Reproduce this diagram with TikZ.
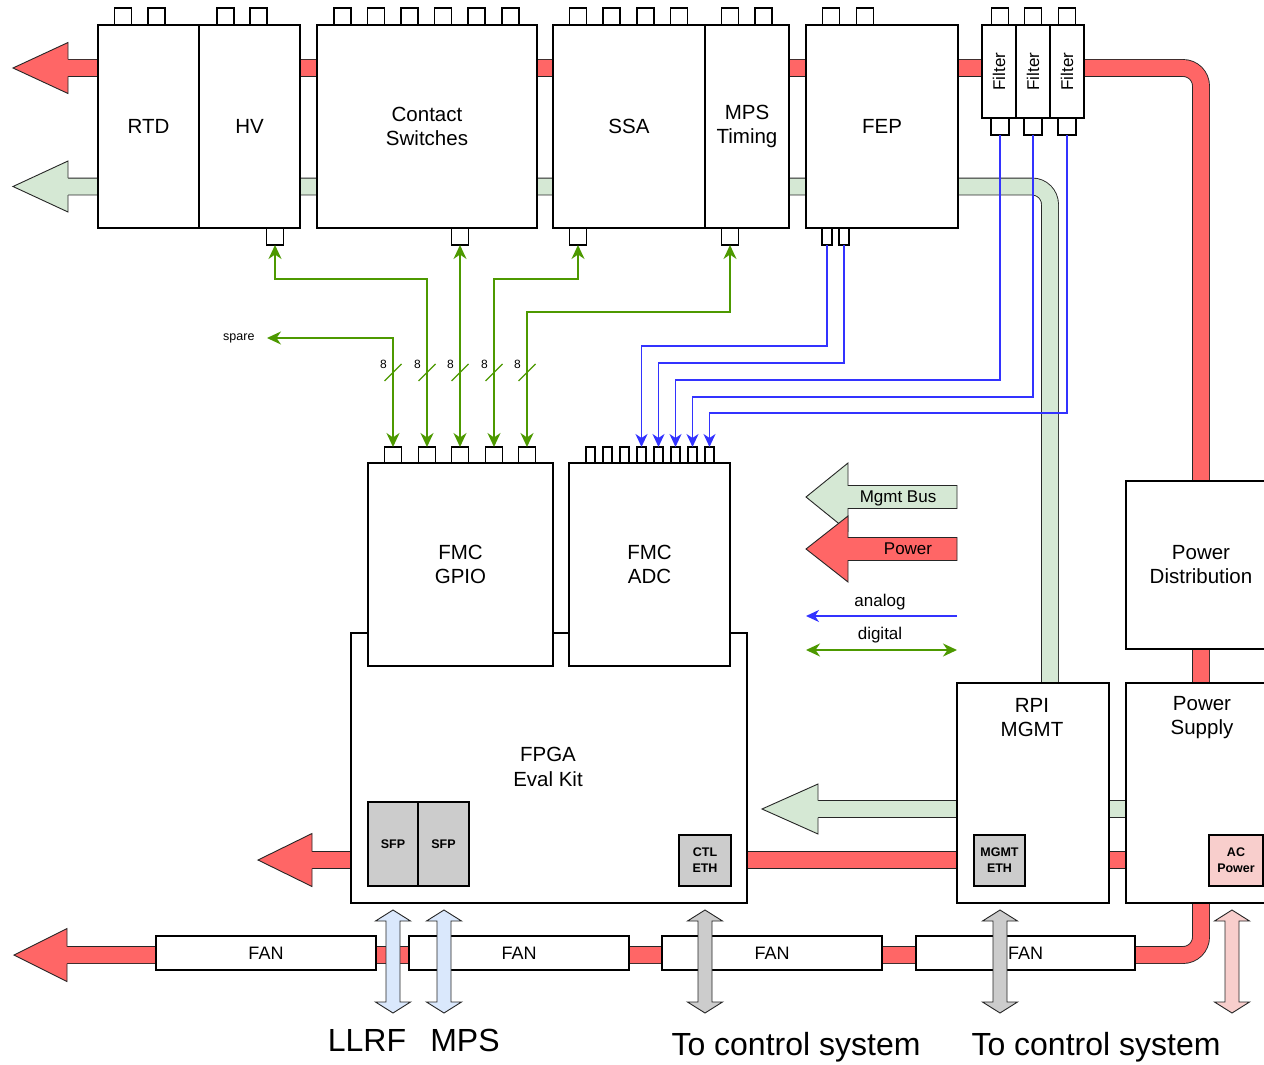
\documentclass[tikz,border=0pt]{standalone}
\usepackage{fontspec}
\setmainfont{Liberation Sans}
\usetikzlibrary{arrows.meta,calc}
\definecolor{redc}{HTML}{FF6666}
\definecolor{grnc}{HTML}{D5E8D4}
\definecolor{blc}{HTML}{3333FF}
\definecolor{dgc}{HTML}{4D9900}
\definecolor{lbc}{HTML}{DAE8FC}
\definecolor{gryc}{HTML}{CCCCCC}
\definecolor{pkc}{HTML}{F8CECC}
\tikzset{
 blk/.style={draw=black, fill=white, line width=1.3pt, inner sep=0pt, outer sep=0pt, align=center, anchor=north west, font=\fontsize{20.5}{24}\selectfont},
 ttab/.style={draw=black, fill=white, line width=1.2pt, minimum width=17pt, minimum height=17pt, inner sep=0pt, outer sep=0pt, anchor=south},
 btab/.style={ttab, anchor=north},
 ntab/.style={btab, minimum width=10pt},
 ctab/.style={ttab, minimum height=16pt},
 actab/.style={ttab, minimum height=16pt, minimum width=9pt},
 port/.style={draw=black, fill=gryc, line width=1.3pt, inner sep=0pt, outer sep=0pt, align=center, anchor=north west, font=\bfseries\fontsize{12.5}{16}\selectfont},
 fanbox/.style={blk, minimum width=220pt, minimum height=34pt, font=\fontsize{18}{20}\selectfont},
 railedge/.style={draw=black!85, line width=0.9pt, line join=miter},
 railR/.style={draw=black!85, line width=0.9pt, double=redc, double distance=16pt, rounded corners=18pt},
 railG/.style={draw=black!85, line width=0.9pt, double=grnc, double distance=16pt, rounded corners=18pt},
 dig/.style={draw=dgc, line width=2pt, arrows={Stealth[length=14pt,width=13pt,inset=4.5pt]-Stealth[length=14pt,width=13pt,inset=4.5pt]}},
 ana/.style={draw=blc, line width=1.5pt, arrows={-Stealth[length=13pt,width=12pt,inset=4pt]}},
 lgd/.style={font=\fontsize{17}{20}\selectfont},
 big/.style={font=\fontsize{32}{36}\selectfont},
}
\newcommand\railhead[6]{%
 \fill[#1] (#2,#3) -- (#4,#3-#5) -- (#4,#3+#5) -- cycle;
 \draw[railedge] (#4,#3-#6) -- (#4,#3-#5) -- (#2,#3) -- (#4,#3+#5) -- (#4,#3+#6);}
\newcommand\dblarrow[2]{%
 \filldraw[fill=#2, railedge] (#1,910) -- (#1+17.5,921) -- (#1+7,921) -- (#1+7,1002) -- (#1+17.5,1002) -- (#1,1013) -- (#1-17.5,1002) -- (#1-7,1002) -- (#1-7,921) -- (#1-17.5,921) -- cycle;}
\begin{document}
\begin{tikzpicture}[x=1pt,y=-1pt]
\useasboundingbox (0,0) rectangle (1264,1065);
\fill[white] (0,0) rectangle (1264,1065);

% ---------- rails (behind everything)
\coordinate (pwrA) at (66,68);
\coordinate (pwrB) at (1201,68);
\coordinate (pwrC) at (1201,955);
\coordinate (pwrD) at (65,955);
\draw[railR] (pwrA) -- (pwrB) -- (pwrC) -- (pwrD);
\coordinate (mgA) at (66,186.5);
\coordinate (mgB) at (1050,186.5);
\coordinate (mgC) at (1050,690);
\draw[railG] (mgA) -- (mgB) -- (mgC);
\coordinate (mg2A) at (1130,809);
\coordinate (mg2B) at (816,809);
\draw[railG] (mg2A) -- (mg2B);
\coordinate (pw2A) at (1130,860);
\coordinate (pw2B) at (310,860);
\draw[railR] (pw2A) -- (pw2B);
\railhead{redc}{13}{68}{68}{25.5}{8.5}
\railhead{grnc}{13}{186.5}{68}{25.5}{8.5}
\railhead{redc}{14}{955}{67}{26.5}{8.5}
\railhead{grnc}{762}{809}{818}{25}{8.5}
\railhead{redc}{258}{860}{312}{26.5}{8.5}

% ---------- top tabs
\foreach \x [count=\i] in {123,156.5,225.5,258.5,342.5,376,409.5,443,476.5,510.5,578,611.5,645.5,679,730,763.5,831,865,1000,1033,1067}
  \node[ttab] (tt\i) at (\x,25) {};

% ---------- top boxes
\node[blk, minimum width=101pt, minimum height=203pt] (rtd) at (98,25) {RTD};
\node[blk, minimum width=101pt, minimum height=203pt] (hv) at (199,25) {HV};
\node[blk, minimum width=220pt, minimum height=203pt] (cs) at (317,25) {Contact\\Switches};
\node[blk, minimum width=152pt, minimum height=203pt] (ssa) at (553,25) {SSA};
\node[blk, minimum width=84pt, minimum height=203pt] (mps) at (705,25) {MPS\\Timing};
\node[blk, minimum width=152pt, minimum height=203pt] (fep) at (806,25) {FEP};
\node[blk, minimum width=34pt, minimum height=93pt] (f1) at (982,25) {};
\node[blk, minimum width=34pt, minimum height=93pt] (f2) at (1016,25) {};
\node[blk, minimum width=34pt, minimum height=93pt] (f3) at (1050,25) {};
\foreach \f in {f1,f2,f3}
  \node[rotate=90, font=\fontsize{17}{20}\selectfont] (\f t) at (\f.center) {Filter};

% ---------- bottom tabs of top boxes
\node[btab] (hvb) at (275,228) {};
\node[btab] (csb) at (460,228) {};
\node[btab] (ssab) at (578,228) {};
\node[btab] (mpsb) at (730,228) {};
\node[ntab] (fepb1) at (827,228) {};
\node[ntab] (fepb2) at (844,228) {};
\node[btab, minimum width=18pt] (f1b) at (1000,118) {};
\node[btab, minimum width=18pt] (f2b) at (1033,118) {};
\node[btab, minimum width=18pt] (f3b) at (1067,118) {};

% ---------- FPGA + FMC
\node[blk, minimum width=396pt, minimum height=270pt] (fpga) at (351,633) {};
\node[font=\fontsize{20.5}{25}\selectfont, align=center] (fpgat) at (548,767) {FPGA\\Eval Kit};
\node[blk, minimum width=185pt, minimum height=203pt] (gpio) at (368,463) {FMC\\GPIO};
\node[blk, minimum width=161pt, minimum height=203pt] (adc) at (569,463) {FMC\\ADC};
\foreach \x [count=\i] in {393,427,460,494,527}
  \node[ctab] (gp\i) at (\x,463) {};
\foreach \x [count=\i] in {590.5,607.5,624.5,641.5,658.5,675.5,692.5,709.5}
  \node[actab] (ad\i) at (\x,463) {};
\node[port, minimum width=50pt, minimum height=84pt] (sfp1) at (368,802) {SFP};
\node[port, minimum width=51pt, minimum height=84pt] (sfp2) at (418,802) {SFP};
\node[port, minimum width=52pt, minimum height=51pt] (ctl) at (679,835) {CTL\\ETH};

% ---------- right side boxes
\node[blk, minimum width=152pt, minimum height=220pt] (rpi) at (957,683) {};
\node[font=\fontsize{20.5}{24}\selectfont, align=center] (rpit) at (1032,718) {RPI\\MGMT};
\node[blk, minimum width=150pt, minimum height=220pt] (ps) at (1126,683) {};
\node[font=\fontsize{20.5}{24}\selectfont, align=center] (pst) at (1202,718) {Power\\Supply};
\node[blk, minimum width=150pt, minimum height=168pt] (pd) at (1126,481) {Power\\Distribution};
\node[port, minimum width=51pt, minimum height=51pt] (mgeth) at (974,835) {MGMT\\ETH};
\node[port, fill=pkc, minimum width=54pt, minimum height=51pt] (acp) at (1209,835) {AC\\Power};

% ---------- fans
\node[fanbox] (fan1) at (156,936) {FAN};
\node[fanbox] (fan2) at (409,936) {FAN};
\node[fanbox] (fan3) at (662,936) {FAN};
\node[fanbox, minimum width=219pt] (fan4) at (916,936) {FAN};

% ---------- digital connectors
\draw[dig] (hvb.south) -- ++(0,34) -| (gp2.north);
\draw[dig] (csb.south) -- (gp3.north);
\draw[dig] (ssab.south) -- ++(0,34) -| (gp4.north);
\draw[dig] (mpsb.south) -- ++(0,67) -| (gp5.north);
\node[anchor=east, font=\fontsize{12.5}{14}\selectfont] (spare) at (258,338) {spare};
\draw[dig, shorten >=9pt] (gp1.north) |- (spare.east);
\foreach \x [count=\i] in {393,427,460,494,527} {
  \draw[dgc, line width=1.3pt] (\x-8.5,381) -- (\x+8.5,364);
  \node[font=\fontsize{12}{14}\selectfont] (bw\i) at (\x-9.5,364) {8};
}

% ---------- analog connectors
\draw[ana] (fepb1.south) -- ++(0,101) -| (ad4.north);
\draw[ana] (fepb2.south) -- ++(0,118) -| (ad5.north);
\draw[ana] (f1b.south) -- ++(0,245) -| (ad6.north);
\draw[ana] (f2b.south) -- ++(0,262) -| (ad7.north);
\draw[ana] (f3b.south) -- ++(0,278) -| (ad8.north);

% ---------- legend
\filldraw[fill=grnc, railedge] (806,497) -- (848,463) -- (848,485.5) -- (957,485.5) -- (957,508.5) -- (848,508.5) -- (848,531) -- cycle;
\node[lgd] (lgmb) at (898,498) {Mgmt Bus};
\filldraw[fill=redc, railedge] (806,549) -- (848,516) -- (848,537.5) -- (957,537.5) -- (957,560.5) -- (848,560.5) -- (848,582) -- cycle;
\node[lgd] (lgpw) at (908,549) {Power};
\node[lgd] (lgan) at (880,602) {analog};
\coordinate (anR) at (957,616);
\coordinate (anL) at (806,616);
\draw[ana] (anR) -- (anL);
\node[lgd] (lgdg) at (880,635) {digital};
\coordinate (dgL) at (806,650);
\coordinate (dgR) at (957,650);
\draw[dig] (dgL) -- (dgR);

% ---------- external double arrows
\dblarrow{393}{lbc}
\dblarrow{444}{lbc}
\dblarrow{705}{gryc}
\dblarrow{1000}{gryc}
\dblarrow{1232}{pkc}
\node[big] (llrf) at (367,1040) {LLRF};
\node[big] (mpsx) at (465,1040) {MPS};
\node[big] (tcs1) at (796,1047) {To control system};
\node[big] (tcs2) at (1096,1047) {To control system};
\end{tikzpicture}
\end{document}
